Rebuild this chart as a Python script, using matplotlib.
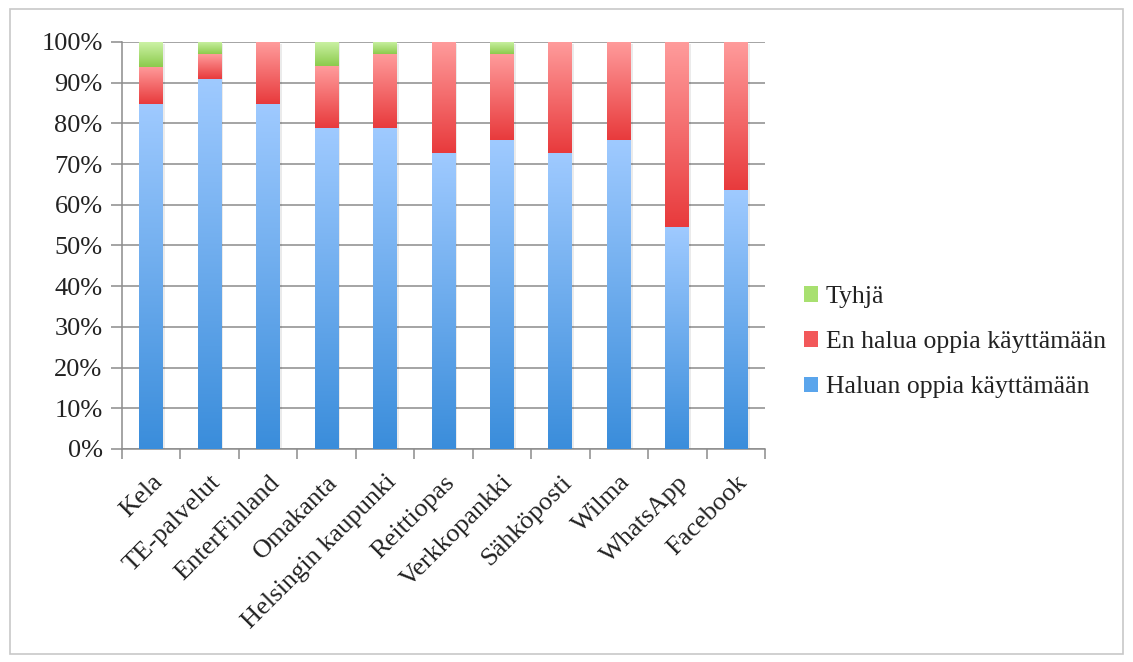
import numpy as np
import matplotlib.pyplot as plt
from matplotlib.colors import LinearSegmentedColormap
from matplotlib.patches import Patch, Rectangle

plt.rcParams['font.family'] = ['Liberation Serif', 'DejaVu Serif']
plt.rcParams['text.color'] = '#222222'
plt.rcParams['xtick.labelcolor'] = '#222222'
plt.rcParams['ytick.labelcolor'] = '#222222'

categories = ['Kela', 'TE-palvelut', 'EnterFinland', 'Omakanta', 'Helsingin kaupunki',
              'Reittiopas', 'Verkkopankki', 'Sähköposti', 'Wilma', 'WhatsApp', 'Facebook']
haluan = np.array([84.8, 90.9, 84.8, 78.8, 78.8, 72.7, 75.8, 72.7, 75.8, 54.5, 63.6])
en_halua = np.array([9.1, 6.1, 15.2, 15.2, 18.2, 27.3, 21.2, 27.3, 24.2, 45.5, 36.4])
tyhja = np.array([6.1, 3.0, 0.0, 6.1, 3.0, 0.0, 3.0, 0.0, 0.0, 0.0, 0.0])
yticks = np.arange(0, 101, 10)

blue_cm = LinearSegmentedColormap.from_list('b', ['#3a8ddb', '#9fcaff'])
red_cm = LinearSegmentedColormap.from_list('r', ['#e83a3c', '#ff9c9c'])
green_cm = LinearSegmentedColormap.from_list('g', ['#8ccb4c', '#ccf2a6'])

fig = plt.figure(figsize=(11.33, 6.62), dpi=100)
fig.patches.append(Rectangle((0.009, 0.012), 0.982, 0.975, transform=fig.transFigure,
                             fill=False, edgecolor='#c8c8c8', linewidth=1.2))
ax = fig.add_axes([0.1077, 0.3218, 0.5675, 0.6148])

x = np.arange(len(categories))
width = 0.41
grad = np.linspace(0, 1, 256).reshape(-1, 1)


def grad_bars(bottom, height, cmap):
    bars = ax.bar(x, height, width, bottom=bottom, facecolor='none', edgecolor='none', zorder=3)
    for b in bars:
        if b.get_height() <= 0:
            continue
        x0, y0 = b.get_x(), b.get_y()
        x1, y1 = x0 + b.get_width(), y0 + b.get_height()
        # soft shadow
        ax.add_patch(Rectangle((x0 + 0.03, y0 - 0.4), b.get_width(), b.get_height(),
                               facecolor='#000000', alpha=0.08, edgecolor='none', zorder=2))
        im = ax.imshow(grad, cmap=cmap, extent=(x0, x1, y0, y1), origin='lower',
                       aspect='auto', zorder=3, interpolation='bicubic')
        im.set_clip_path(b)


grad_bars(0, haluan, blue_cm)
grad_bars(haluan, en_halua, red_cm)
grad_bars(haluan + en_halua, tyhja, green_cm)

ax.set_xlim(-0.5, len(categories) - 0.5)
ax.set_ylim(0, 100)
ax.set_yticks(yticks)
ax.set_yticklabels([f'{v}%' for v in yticks], fontsize=19)
ax.yaxis.grid(True, color='#8c8c8c', linewidth=1.1)
ax.set_axisbelow(True)

ax.set_xticks(x)
ax.set_xticklabels(categories, rotation=45, ha='right', rotation_mode='anchor', fontsize=19)
ax.set_xticks(np.arange(-0.5, len(categories)), minor=True)
ax.tick_params(axis='x', which='major', length=0, pad=16)
ax.tick_params(axis='x', which='minor', length=7, color='#8c8c8c', width=1.1)
ax.tick_params(axis='y', length=8, color='#8c8c8c', width=1.1, pad=6)

for s in ['top', 'right']:
    ax.spines[s].set_visible(False)
for s in ['left', 'bottom']:
    ax.spines[s].set_color('#8c8c8c')
    ax.spines[s].set_linewidth(1.1)

handles = [Patch(facecolor='#a8e070', label='Tyhjä'),
           Patch(facecolor='#f2585a', label='En halua oppia käyttämään'),
           Patch(facecolor='#5aa5ec', label='Haluan oppia käyttämään')]
fig.legend(handles=handles, loc='center left', bbox_to_anchor=(0.689, 0.483),
           frameon=False, fontsize=18.5, handlelength=0.55, handleheight=0.55,
           handletextpad=0.3, labelspacing=0.9)

fig.savefig('out.png', dpi=100)
